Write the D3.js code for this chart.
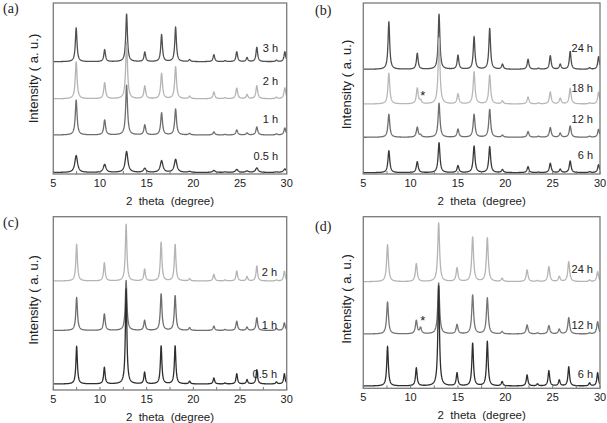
<!DOCTYPE html>
<html>
<head>
<meta charset="utf-8">
<script src="https://cdn.jsdelivr.net/npm/d3@7"></script>
<style>
  body { margin: 0; background: #fff; }
  text { font-family: 'Liberation Sans', Arial, sans-serif; fill: #222; }
  .panel-letter { font-family: 'Liberation Serif', 'Times New Roman', serif; font-size: 14px; }
  .tick-label { font-size: 11px; }
  .axis-title { font-size: 11.5px; }
  .y-title { font-size: 13px; }
  .trace-label { font-size: 11px; }
</style>
</head>
<body>
<svg id="xrd"></svg>
<script>
// svg size
const width = 607;
const height = 423;

// 2 theta ticks (labelled every 5, small marks every 2.5)
const tickLabels = [5, 10, 15, 20, 25, 30];
const minorTicks = [7.5, 12.5, 17.5, 22.5, 27.5];

// peak positions (degree)
const peaksA = [7.45, 10.5, 12.85, 14.8, 16.6, 18.1, 19.6, 22.2, 23.4, 24.65, 25.75, 26.8, 28.9, 29.8];
const peaksB = [7.7, 10.7, 11.05, 13.0, 15.0, 16.7, 18.35, 19.7, 22.4, 23.5, 24.75, 25.8, 26.85, 28.9, 29.85];
const peaksC = [7.5, 10.47, 12.8, 14.78, 16.55, 18.05, 19.6, 22.2, 23.4, 24.65, 25.75, 26.8, 28.9, 29.75];
const peaksD = [7.56, 10.6, 11.05, 12.96, 14.9, 16.55, 18.1, 19.66, 22.3, 23.4, 24.6, 25.7, 26.7, 28.9, 29.75];

// trace names
const labelsA = ['3 h', '2 h', '1 h', '0.5 h'];
const labelsB = ['24 h', '18 h', '12 h', '6 h'];
const labelsC = ['2 h', '1 h', '0.5 h'];
const labelsD = ['24 h', '12 h', '6 h'];

// vertical offset of each trace (a. u.)
const offsetsA = [112.3, 75.2, 39, 1.5];
const offsetsB = [104.7, 70, 36.7, 1.3];
const offsetsC = [109, 59.5, 6];
const offsetsD = [106.6, 54.3, 2.3];

// peak intensities (a. u.), one row per trace, same order as the peak positions
const heightsA = [
  [34, 12, 48, 9.5, 27, 34.5, 2, 7, 1, 10, 4, 14.5, 1.5, 10],
  [37, 16, 57, 12.7, 25.4, 32, 2.5, 6.7, 1, 10.7, 4, 13, 1.5, 11],
  [35, 15, 50, 10, 22, 26, 1.5, 3, 0.5, 5, 2, 8, 1, 7],
  [17, 8, 21, 4, 11.7, 13, 1, 2, 0.5, 3, 1.5, 4.5, 0.5, 3.5]
];
const heightsB = [
  [47.5, 16, 0, 55, 14, 32.5, 41, 5, 10, 1, 13.6, 5, 18, 1.5, 12.6],
  [30.7, 15.7, 3, 66, 10, 32, 29, 3, 7, 1, 12, 5.7, 15.7, 1, 12],
  [23, 10, 2, 34, 8, 23, 28, 2, 5.7, 1, 9.7, 4, 11.3, 1, 8],
  [22, 11, 0, 30, 7, 26.7, 26, 3, 6, 0.5, 9.4, 3.4, 11.7, 1, 8]
];
const heightsC = [
  [36.7, 18.3, 56.7, 11.7, 39, 36.7, 2.3, 6.7, 1, 10, 4.3, 15, 1, 10],
  [33, 16.7, 50, 10, 36.7, 35, 2.7, 4.3, 1, 9.3, 3.3, 12.7, 2, 7.7],
  [37.7, 16.7, 95, 11.7, 38.3, 38.3, 2.7, 6, 1, 10.3, 4.3, 14.3, 2, 10.3]
];
const heightsD = [
  [37, 18, 0, 58.7, 13.7, 44.7, 43.7, 3.3, 11.7, 1, 15, 5, 20, 1.5, 10],
  [32, 13.3, 6, 51, 9.3, 39, 36, 2.3, 9, 1, 8.3, 4.7, 16.3, 1, 12.3],
  [39.7, 18, 0, 100, 13, 43, 44.7, 4.3, 11, 2, 15.3, 6, 19.3, 3, 13.3]
];

// peak width (fwhm, degree) of each trace
const widthsA = [0.21, 0.23, 0.23, 0.34];
const widthsB = [0.21, 0.23, 0.23, 0.23];
const widthsC = [0.2, 0.21, 0.19];
const widthsD = [0.23, 0.23, 0.2];

/*
 * panel layout, hard-coded to match the figure
 */
const panels = [
  { id: 'a', x: 53.3, y: 3, w: 233.4, h: 171, peaks: peaksA, labels: labelsA, offsets: offsetsA,
    heights: heightsA, widths: widthsA,
    colors: ['#505050', '#b4b4b4', '#6e6e6e', '#3c3c3c'], lift: [14, 18, 16, 16.5],
    labelX: 278, star: null, letter: [3, 13], yTitle: [33, 78.5] },
  { id: 'b', x: 363.3, y: 3, w: 236.7, h: 171, peaks: peaksB, labels: labelsB, offsets: offsetsB,
    heights: heightsB, widths: widthsB,
    colors: ['#4e4e4e', '#b8b8b8', '#6e6e6e', '#3a3a3a'], lift: [21, 16, 18, 17.7],
    labelX: 593, star: [422.7, 100], letter: [315, 15], yTitle: [346.7, 84.5] },
  { id: 'c', x: 53.3, y: 216.7, w: 233.4, h: 173.3, peaks: peaksC, labels: labelsC, offsets: offsetsC,
    heights: heightsC, widths: widthsC,
    colors: ['#b4b4b4', '#6e6e6e', '#2e2e2e'], lift: [9.3, 5.5, 10],
    labelX: 277, star: null, letter: [3, 227], yTitle: [33, 300] },
  { id: 'd', x: 363.3, y: 216.7, w: 236.7, h: 171.6, peaks: peaksD, labels: labelsD, offsets: offsetsD,
    heights: heightsD, widths: widthsD,
    colors: ['#b4b4b4', '#747474', '#2e2e2e'], lift: [12.4, 9, 12],
    labelX: 593, star: [422.7, 324.5], letter: [315, 231], yTitle: [346.7, 299] }
];

const svg = d3.select('#xrd')
  .attr('width', width)
  .attr('height', height);

panels.forEach(drawPanel);

/*
 * draw one panel: frame, ticks, traces and text
 */
function drawPanel(p) {
  const x = d3.scaleLinear().domain([5, 30]).range([p.x, p.x + p.w]);
  const y = d3.scaleLinear().domain([0, p.h]).range([p.y + p.h, p.y]);

  const group = svg.append('g').attr('id', 'panel-' + p.id);

  // sample grid along 2 theta
  const grid = d3.range(5, 30.0001, 0.02);

  const line = d3.line()
    .x(d => x(d[0]))
    .y(d => y(d[1]));

  // clip so peaks cut at the frame like the original
  group.append('clipPath')
    .attr('id', 'clip-' + p.id)
    .append('rect')
    .attr('x', p.x).attr('y', p.y)
    .attr('width', p.w).attr('height', p.h);

  const traces = group.append('g').attr('clip-path', 'url(#clip-' + p.id + ')');

  p.heights.forEach((row, i) => {
    const hw = p.widths[i] / 2;
    const points = grid.map(t => {
      let v = p.offsets[i];
      p.peaks.forEach((pos, k) => {
        const u = (t - pos) / hw;
        v += row[k] / (1 + u * u);
      });
      return [t, v];
    });

    traces.append('path')
      .attr('d', line(points))
      .attr('fill', 'none')
      .attr('stroke', p.colors[i])
      .attr('stroke-width', 1.3)
      .attr('stroke-linejoin', 'round');

    group.append('text')
      .attr('class', 'trace-label')
      .attr('x', p.labelX)
      .attr('y', y(p.offsets[i]) - p.lift[i])
      .attr('dy', '0.35em')
      .attr('text-anchor', 'end')
      .text(p.labels[i]);
  });

  // frame
  group.append('rect')
    .attr('x', p.x).attr('y', p.y)
    .attr('width', p.w).attr('height', p.h)
    .attr('fill', 'none')
    .attr('stroke', '#7a7a7a')
    .attr('stroke-width', 1.3);

  // ticks pointing inward
  group.selectAll('.tick-mark')
    .data(tickLabels.concat(minorTicks))
    .enter()
    .append('line')
    .attr('class', 'tick-mark')
    .attr('x1', d => x(d)).attr('x2', d => x(d))
    .attr('y1', p.y + p.h).attr('y2', p.y + p.h - 3)
    .attr('stroke', '#7a7a7a');

  group.selectAll('.tick-label')
    .data(tickLabels)
    .enter()
    .append('text')
    .attr('class', 'tick-label')
    .attr('x', d => x(d))
    .attr('y', p.y + p.h + 13)
    .attr('text-anchor', 'middle')
    .text(d => d);

  group.append('text')
    .attr('class', 'axis-title')
    .attr('x', p.x + p.w / 2)
    .attr('y', p.y + p.h + 31)
    .attr('text-anchor', 'middle')
    .attr('xml:space', 'preserve')
    .text('2  theta  (degree)');

  group.append('text')
    .attr('class', 'y-title')
    .attr('transform', translate(p.yTitle[0], p.yTitle[1]) + ' rotate(-90)')
    .attr('dy', '0.35em')
    .attr('text-anchor', 'middle')
    .text('Intensity ( a. u.)');

  group.append('text')
    .attr('class', 'panel-letter')
    .attr('x', p.letter[0])
    .attr('y', p.letter[1])
    .text('(' + p.id + ')');

  if (p.star) {
    group.append('text')
      .attr('x', p.star[0])
      .attr('y', p.star[1])
      .attr('text-anchor', 'middle')
      .attr('font-size', 13)
      .text('*');
  }
}

/*
 * returns a translate string for the transform attribute
 */
function translate(x, y) {
  return 'translate(' + String(x) + ',' + String(y) + ')';
}
</script>
</body>
</html>
